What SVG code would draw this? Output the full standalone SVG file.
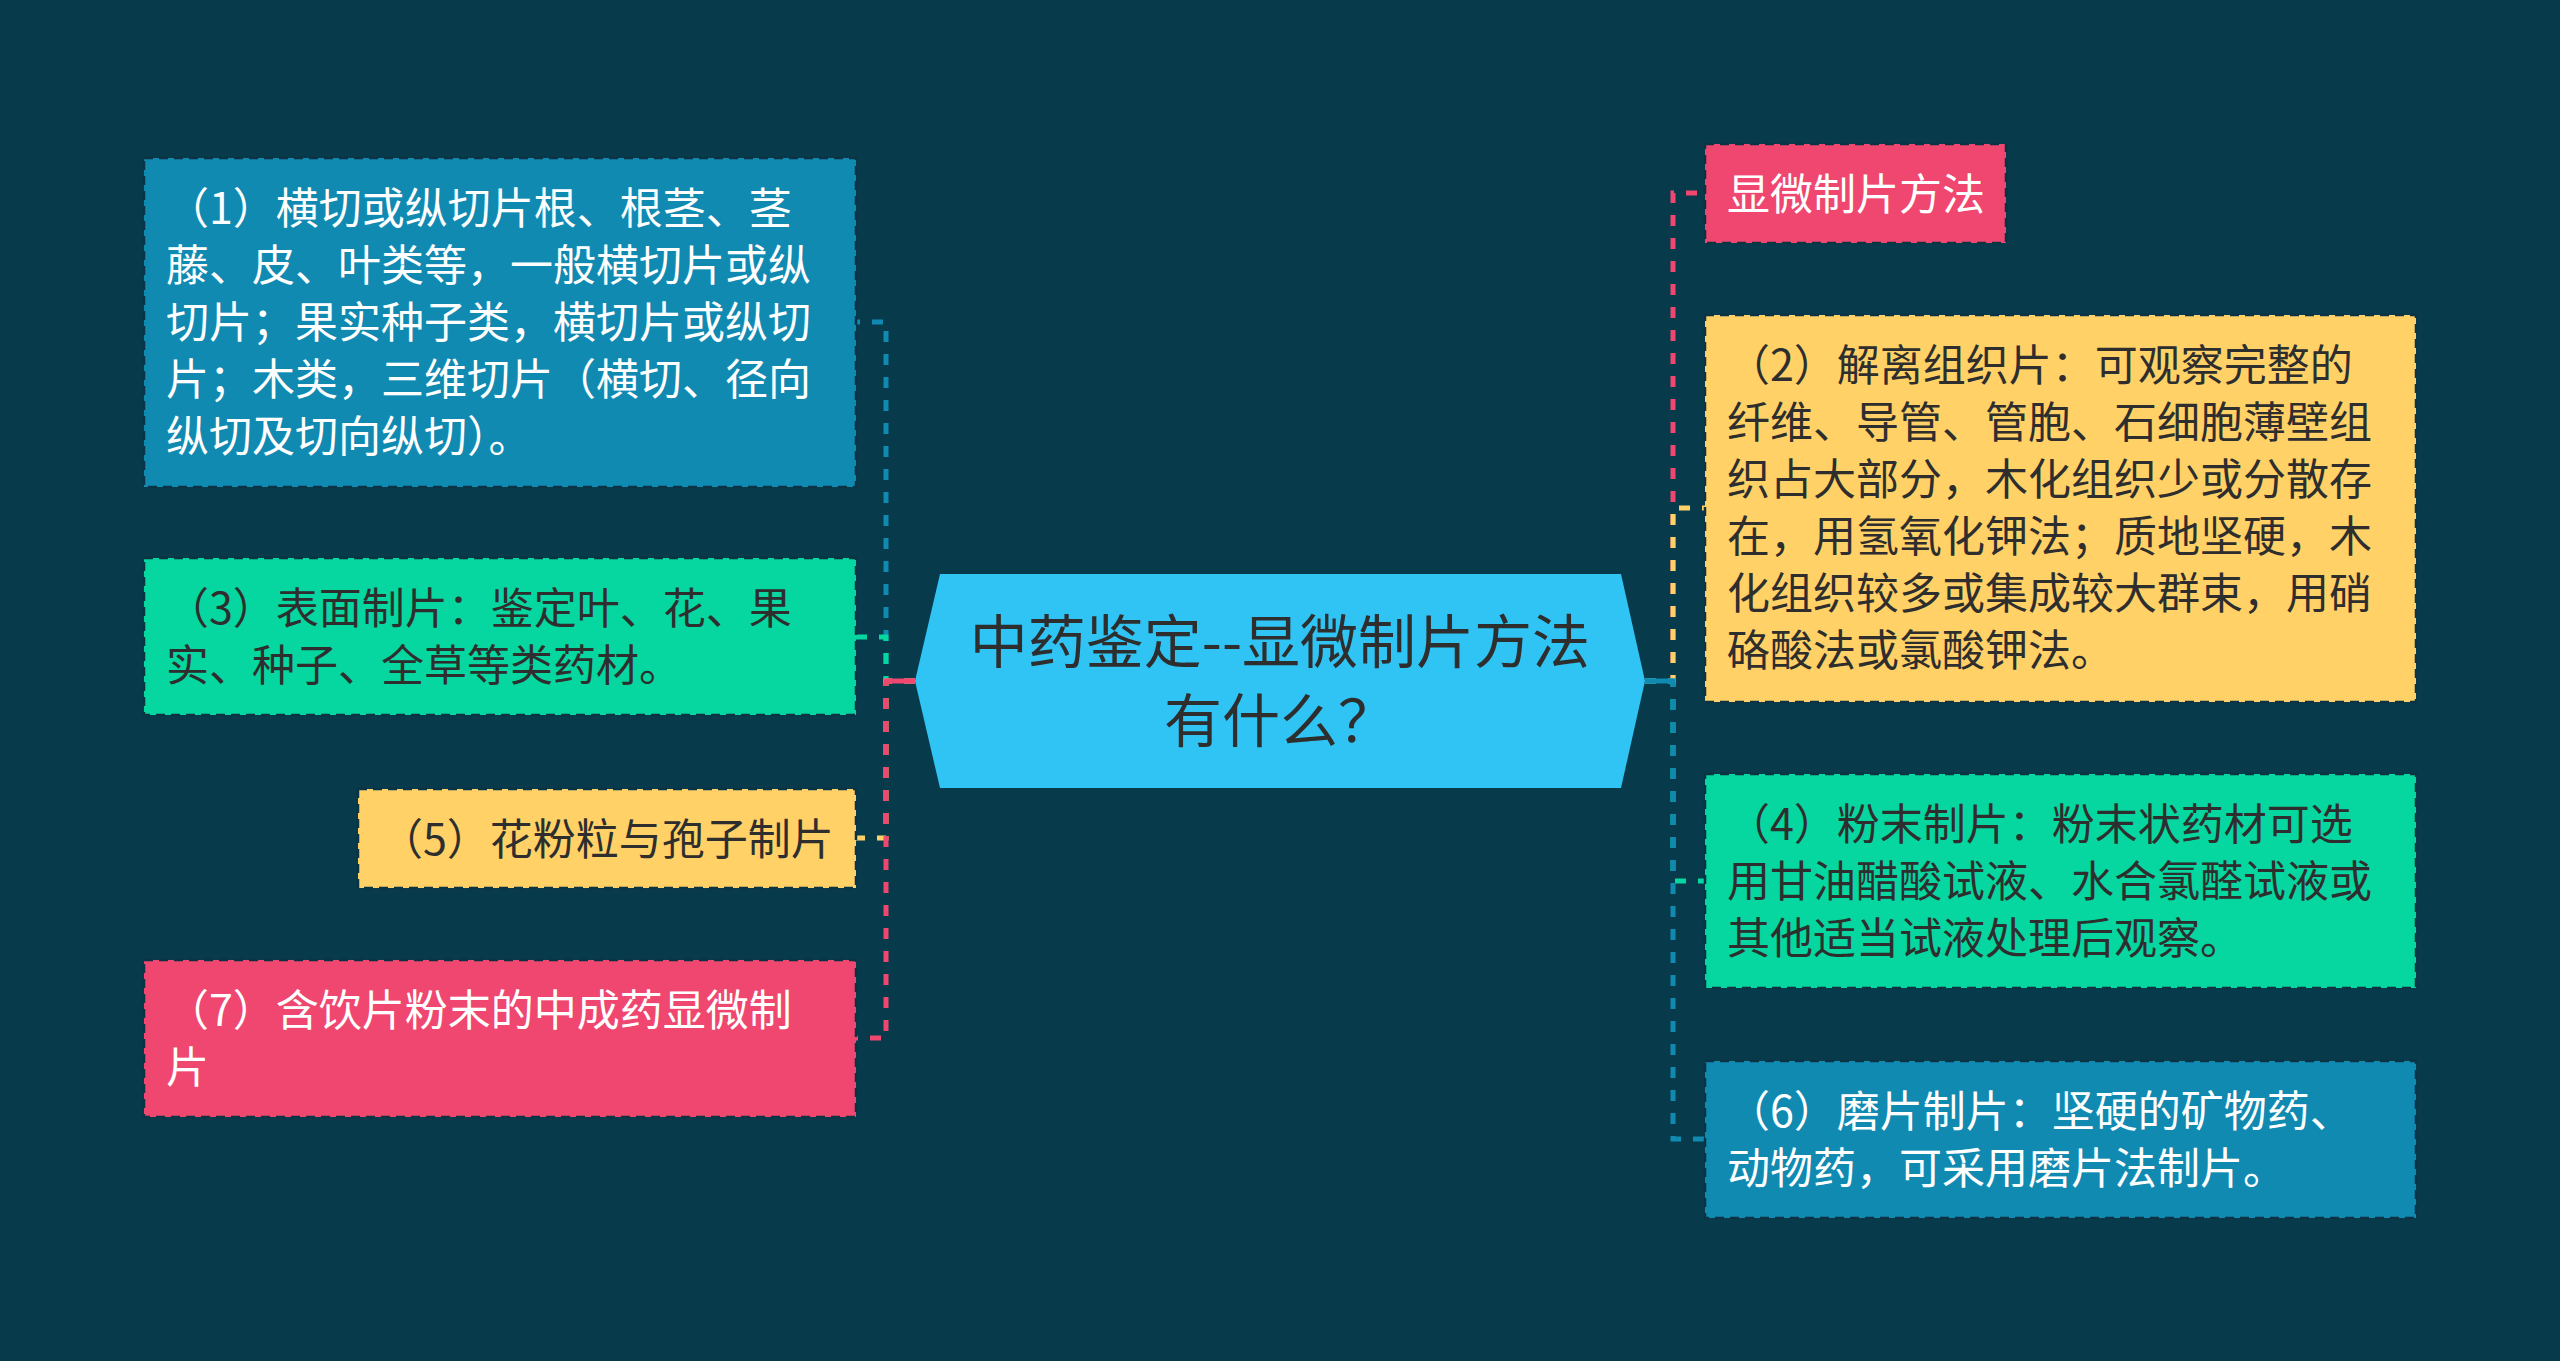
<svg xmlns="http://www.w3.org/2000/svg" width="2560" height="1361" viewBox="0 0 2560 1361">
<defs>
<style>
.box{stroke:#0b3343;stroke-width:2.5;stroke-dasharray:9 6}
.t{font-family:"Noto Sans CJK SC","Noto Sans",sans-serif;font-size:43px}
.w{fill:#ffffff}
.d{fill:#2e2e2e}
.c{fill:none;stroke-width:5;stroke-dasharray:11 12}
.blue{fill:#118ab2}.green{fill:#06d6a0}.yellow{fill:#ffd166}.pink{fill:#ef476f}
</style>
</defs>
<rect x="0" y="0" width="2560" height="1361" fill="#073b4c"/>
<g id="connectors">
<path class="c" stroke="#118ab2" d="M915 681 H886 V322 H856"/>
<path class="c" stroke="#06d6a0" d="M915 681 H886 V637 H856"/>
<path class="c" stroke="#ffd166" d="M915 681 H886 V838 H856"/>
<path class="c" stroke="#ef476f" d="M915 681 H886 V1038 H856"/>
<line x1="886" y1="681" x2="915" y2="681" stroke="#ef476f" stroke-width="5"/>
<path class="c" stroke="#ef476f" d="M1645 681 H1673 V193 H1705"/>
<path class="c" stroke="#ffd166" d="M1645 681 H1673 V508 H1705"/>
<path class="c" stroke="#06d6a0" d="M1645 681 H1673 V881 H1705"/>
<path class="c" stroke="#118ab2" d="M1645 681 H1673 V1139 H1705"/>
<line x1="1645" y1="681" x2="1673" y2="681" stroke="#118ab2" stroke-width="5"/>
</g>
<g id="center">
<polygon points="940,574 1621,574 1645,681 1621,788 940,788 915,681" fill="#30c4f5"/>
<text font-family="'Noto Sans CJK SC','Noto Sans',sans-serif" font-size="58" fill="#2e2e2e" text-anchor="middle"><tspan x="1280" y="663">中药鉴定--显微制片方法</tspan><tspan x="1280" y="742">有什么？</tspan></text>
</g>
<g id="node1">
<rect class="box blue" x="144" y="158" width="712" height="329"/>
<text class="t w"><tspan x="166" y="224">（1）横切或纵切片根、根茎、茎</tspan><tspan x="166" y="281">藤、皮、叶类等，一般横切片或纵</tspan><tspan x="166" y="338">切片；果实种子类，横切片或纵切</tspan><tspan x="166" y="395">片；木类，三维切片（横切、径向</tspan><tspan x="166" y="452">纵切及切向纵切）。</tspan></text>
</g>
<g id="node3">
<rect class="box green" x="144" y="558" width="712" height="157"/>
<text class="t d"><tspan x="166" y="624">（3）表面制片：鉴定叶、花、果</tspan><tspan x="166" y="681">实、种子、全草等类药材。</tspan></text>
</g>
<g id="node5">
<rect class="box yellow" x="358" y="789" width="498" height="99"/>
<text class="t d" x="380" y="855">（5）花粉粒与孢子制片</text>
</g>
<g id="node7">
<rect class="box pink" x="144" y="960" width="712" height="157"/>
<text class="t w"><tspan x="166" y="1026">（7）含饮片粉末的中成药显微制</tspan><tspan x="166" y="1083">片</tspan></text>
</g>
<g id="nodeTitle">
<rect class="box pink" x="1705" y="144" width="301" height="99"/>
<text class="t w" x="1727" y="210">显微制片方法</text>
</g>
<g id="node2">
<rect class="box yellow" x="1705" y="315" width="711" height="387"/>
<text class="t d"><tspan x="1727" y="381">（2）解离组织片：可观察完整的</tspan><tspan x="1727" y="438">纤维、导管、管胞、石细胞薄壁组</tspan><tspan x="1727" y="495">织占大部分，木化组织少或分散存</tspan><tspan x="1727" y="552">在，用氢氧化钾法；质地坚硬，木</tspan><tspan x="1727" y="609">化组织较多或集成较大群束，用硝</tspan><tspan x="1727" y="666">硌酸法或氯酸钾法。</tspan></text>
</g>
<g id="node4">
<rect class="box green" x="1705" y="774" width="711" height="214"/>
<text class="t d"><tspan x="1727" y="840">（4）粉末制片：粉末状药材可选</tspan><tspan x="1727" y="897">用甘油醋酸试液、水合氯醛试液或</tspan><tspan x="1727" y="954">其他适当试液处理后观察。</tspan></text>
</g>
<g id="node6">
<rect class="box blue" x="1705" y="1061" width="711" height="157"/>
<text class="t w"><tspan x="1727" y="1127">（6）磨片制片：坚硬的矿物药、</tspan><tspan x="1727" y="1184">动物药，可采用磨片法制片。</tspan></text>
</g>
</svg>
